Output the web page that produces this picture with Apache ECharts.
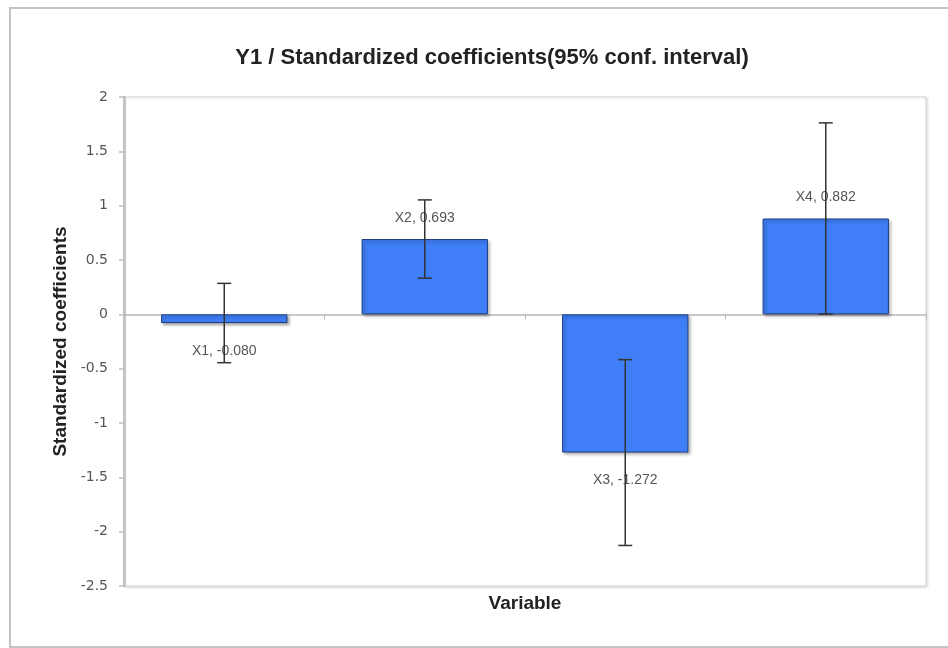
<!DOCTYPE html>
<html>
<head>
<meta charset="utf-8">
<script src="https://cdn.jsdelivr.net/npm/echarts@6/dist/echarts.min.js"></script>
<style>
html,body{margin:0;padding:0;background:#fff;}
#c{width:948px;height:648px;}
</style>
</head>
<body>
<div id="c"></div>
<script>
var categories = ['X1', 'X2', 'X3', 'X4'];
var coefficients = [-0.080, 0.693, -1.272, 0.882];
var lowerBounds = [-0.445, 0.333, -2.127, 0.002];
var upperBounds = [0.285, 1.053, -0.417, 1.762];
var yTicks = { min: -2.5, max: 2, interval: 0.5 };

var chart = echarts.init(document.getElementById('c'), null, { renderer: 'canvas' });

var barData = coefficients.map(function (v, i) {
  return {
    value: v,
    label: {
      position: v >= 0 ? 'top' : 'bottom',
      distance: v >= 0 ? 14 : 21
    }
  };
});
var errData = categories.map(function (c, i) {
  return [i, lowerBounds[i], upperBounds[i]];
});

var option = {
  backgroundColor: '#fff',
  animation: false,
  title: {
    text: 'Y1 / Standardized coefficients(95% conf. interval)',
    left: 487,
    textAlign: 'center',
    top: 42,
    textStyle: { fontFamily: 'Liberation Sans, Arial, sans-serif', fontSize: 22, fontWeight: 'bold', color: '#222' }
  },
  graphic: [{
    type: 'rect',
    shape: { x: 10, y: 8, width: 960, height: 639 },
    style: { fill: 'none', stroke: '#c4c4c4', lineWidth: 2 },
    silent: true,
    z: -1
  }],
  grid: {
    left: 124, right: 22, top: 97, bottom: 62,
    show: true, borderColor: '#d6d6d6', borderWidth: 1,
    shadowColor: 'rgba(0,0,0,0.15)', shadowBlur: 3, shadowOffsetX: 1, shadowOffsetY: 1,
    backgroundColor: '#fff'
  },
  xAxis: [{
    type: 'category',
    data: categories,
    axisLine: { onZero: true, lineStyle: { color: '#b8b8b8', width: 1.5 } },
    axisTick: { show: true, length: 5, inside: false, lineStyle: { color: '#b8b8b8' } },
    axisLabel: { show: false },
    splitLine: { show: false }
  }, {
    type: 'category',
    data: categories,
    position: 'bottom',
    axisLine: { show: false, onZero: false },
    axisTick: { show: false },
    axisLabel: { show: false },
    name: 'Variable',
    nameLocation: 'middle',
    nameGap: 8,
    nameTextStyle: { fontFamily: 'Liberation Sans, Arial, sans-serif', fontSize: 19, fontWeight: 'bold', color: '#222', verticalAlign: 'top' }
  }],
  yAxis: {
    type: 'value',
    min: yTicks.min, max: yTicks.max, interval: yTicks.interval,
    axisLine: { show: true, lineStyle: { color: '#bdbdbd', width: 2.5 } },
    axisTick: { show: true, length: 5, lineStyle: { color: '#bdbdbd', width: 1.5 } },
    axisLabel: { color: '#555', fontSize: 14, fontFamily: 'DejaVu Sans, sans-serif', margin: 16 },
    splitLine: { show: false },
    name: 'Standardized coefficients',
    nameLocation: 'middle',
    nameRotate: 90,
    nameGap: 52,
    nameTextStyle: { fontFamily: 'Liberation Sans, Arial, sans-serif', fontSize: 19, fontWeight: 'bold', color: '#222' }
  },
  series: [{
    type: 'bar',
    data: barData,
    barWidth: '63%',
    itemStyle: {
      color: '#3f7ef6', borderColor: '#1d3e86', borderWidth: 1,
      shadowColor: 'rgba(0,0,0,0.35)', shadowBlur: 3, shadowOffsetX: 2, shadowOffsetY: 2
    },
    label: {
      show: true,
      color: '#555',
      fontSize: 14,
      fontFamily: 'Liberation Sans, Arial, sans-serif',
      formatter: function (p) { return categories[p.dataIndex] + ', ' + coefficients[p.dataIndex].toFixed(3); }
    },
    z: 2
  }, {
    type: 'custom',
    data: errData,
    z: 5,
    renderItem: function (params, api) {
      var x = api.value(0);
      var lo = api.coord([x, api.value(1)]);
      var hi = api.coord([x, api.value(2)]);
      var half = 7;
      var st = { stroke: '#333', lineWidth: 1.5 };
      return {
        type: 'group',
        children: [
          { type: 'line', shape: { x1: lo[0], y1: lo[1], x2: hi[0], y2: hi[1] }, style: st },
          { type: 'line', shape: { x1: lo[0] - half, y1: lo[1], x2: lo[0] + half, y2: lo[1] }, style: st },
          { type: 'line', shape: { x1: hi[0] - half, y1: hi[1], x2: hi[0] + half, y2: hi[1] }, style: st }
        ]
      };
    }
  }]
};
chart.setOption(option);
</script>
</body>
</html>
